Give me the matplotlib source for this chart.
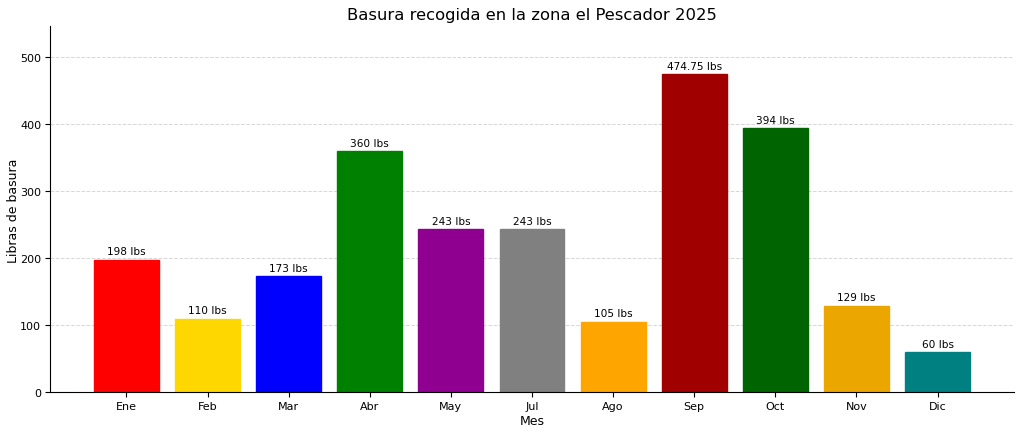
import matplotlib
matplotlib.use("Agg")
import matplotlib.pyplot as plt

months = ["Ene", "Feb", "Mar", "Abr", "May", "Jul", "Ago", "Sep", "Oct", "Nov", "Dic"]
values = [198, 110, 173, 360, 243, 243, 105, 474.75, 394, 129, 60]
labels = ["198 lbs", "110 lbs", "173 lbs", "360 lbs", "243 lbs", "243 lbs", "105 lbs",
          "474.75 lbs", "394 lbs", "129 lbs", "60 lbs"]
colors = ["#FF0000", "#FFD700", "#0000FF", "#008000", "#900090", "#808080",
          "#FFA500", "#A00000", "#006400", "#EBA600", "#008080"]

fig, ax = plt.subplots(figsize=(10.24, 4.35), dpi=100)
fig.subplots_adjust(left=0.049, right=0.99, top=0.937, bottom=0.096)

x = list(range(len(months)))
bars = ax.bar(x, values, color=colors, edgecolor=colors, linewidth=1, width=0.8, zorder=2)
ax.set_xticks(x)
ax.set_xticklabels(months, fontsize=8)
ax.tick_params(axis="y", labelsize=8)
ax.tick_params(axis="both", length=3.5, pad=3)
for b, lab in zip(bars, labels):
    ax.annotate(lab, (b.get_x() + b.get_width() / 2, b.get_height()),
                xytext=(0, 2.5), textcoords="offset points",
                ha="center", va="bottom", fontsize=7.6)

ax.set_ylim(0, max(values) * 1.15)
ax.yaxis.grid(True, linestyle="--", alpha=0.5, linewidth=0.7, zorder=0)
ax.set_axisbelow(True)
ax.spines["top"].set_visible(False)
ax.spines["right"].set_visible(False)
ax.set_xlabel("Mes", fontsize=9, labelpad=2)
ax.set_ylabel("Libras de basura", fontsize=9)
ax.yaxis.set_label_coords(-0.031, 0.5)
ax.set_title("Basura recogida en la zona el Pescador 2025", fontsize=11.8, pad=5)

fig.savefig("out.png", dpi=100)
